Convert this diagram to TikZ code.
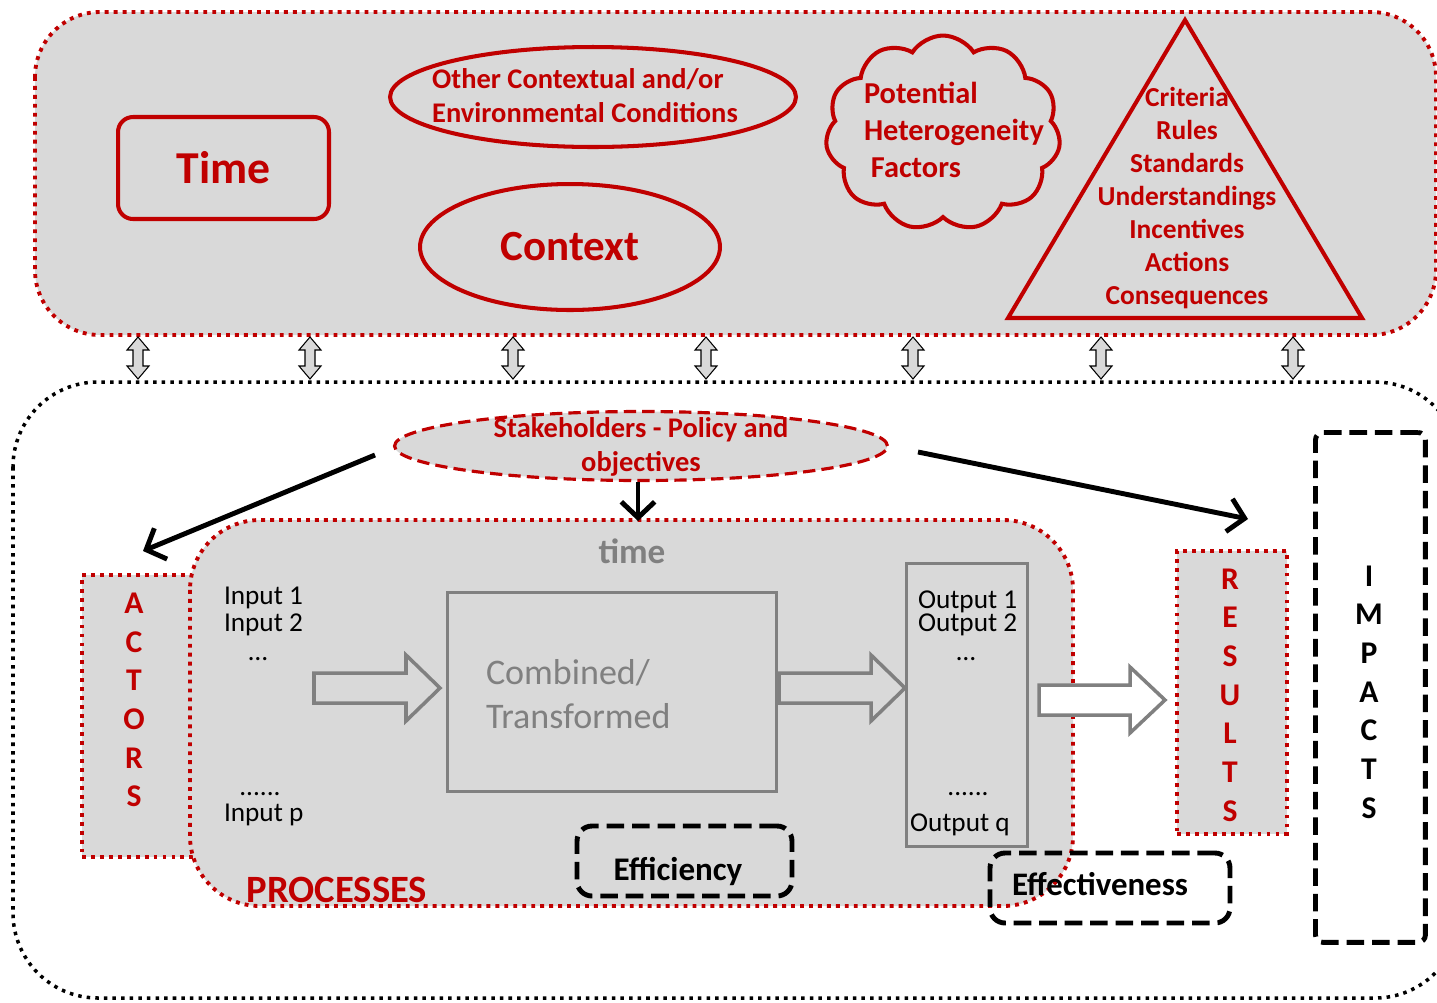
\documentclass[tikz,border=0pt]{standalone}
\usepackage{fontspec}
\setmainfont{Carlito}
\usetikzlibrary{shapes.geometric,shapes.symbols,arrows.meta}
\definecolor{dred}{HTML}{C00000}
\definecolor{lgray}{HTML}{D9D9D9}
\definecolor{mgray}{HTML}{808080}
\tikzset{
  reddot/.style={draw=dred, line width=2.2pt, dash pattern=on 2.2pt off 2.9pt},
  blkdot/.style={draw=black, line width=2pt, dash pattern=on 2pt off 2.9pt},
  redline/.style={draw=dred, line width=2.3pt},
  blkdash/.style={draw=black, line width=2.8pt, dash pattern=on 10pt off 4.5pt},
  reddash/.style={draw=dred, line width=1.8pt, dash pattern=on 7pt off 3.5pt},
  redtxt/.style={text=dred, font=\bfseries},
  blockarrow/.style={draw=mgray, line width=2pt, line join=miter},
  dblarrow/.style={draw=black, line width=0.6pt, fill=lgray},
  conn/.style={line width=2.8pt, -{Straight Barb[length=9pt,width=19pt]}},
  plain/.style={inner sep=0pt, outer sep=0pt}
}
\newcommand{\blockarr}[5]{% x1 x2 cy headstart fill
  \draw[blockarrow, fill=#5] (#1,#3-15) -- (#4,#3-15) -- (#4,#3-33) -- (#2,#3) -- (#4,#3+33) -- (#4,#3+15) -- (#1,#3+15) -- cycle;}
\newcommand{\dblarr}[1]{%
  \draw[dblarrow] (#1-5,350) -- (#1-11,350) -- (#1,337) -- (#1+11,350) -- (#1+5,350) -- (#1+5,366) -- (#1+11,366) -- (#1,379) -- (#1-11,366) -- (#1-5,366) -- cycle;}
\begin{document}
\begin{tikzpicture}[x=0.02cm,y=-0.02cm]
\useasboundingbox (0,0) rectangle (1437,1002);
% top panel
\draw[reddot, fill=lgray, rounded corners=1.3cm] (35,12) rectangle (1436,335);
% bottom panel
\draw[blkdot, rounded corners=1.7cm] (13,382) rectangle (1460,998);
% double arrows
\foreach \xx in {138,310,513,706,913,1101,1293}{\dblarr{\xx}}
% Time
\node[redline, rounded corners=0.3cm, minimum width=4.22cm, minimum height=2.04cm, redtxt, font=\bfseries\fontsize{26}{30}\selectfont] (time) at (223.5,168) {Time};
% ellipses
\node[ellipse, redline, minimum width=8.12cm, minimum height=2cm, inner sep=0pt] (other) at (593,97) {};
\node[plain, redtxt, align=left, font=\bfseries\fontsize{16.2}{19.3}\selectfont] (othertxt) at (585,96) {Other Contextual and/or\\Environmental Conditions};
\node[ellipse, redline, minimum width=6cm, minimum height=2.52cm, redtxt, font=\bfseries\fontsize{24.5}{30}\selectfont] (context) at (570,247) {Context};
% cloud
\node[cloud, cloud puffs=11, cloud puff arc=115, aspect=1.15, redline, minimum width=4.7cm, minimum height=3.9cm] (cloud) at (943,133) {};
\node[plain, redtxt, align=left, anchor=west, font=\bfseries\fontsize{17.3}{21}\selectfont] (cloudtxt) at (864,130) {Potential\\Heterogeneity\\\ Factors};
% triangle
\draw[redline, line join=miter] (1185,20) -- (1362,318) -- (1008,318) -- cycle;
\node[plain, redtxt, align=center, font=\bfseries\fontsize{15.6}{18.7}\selectfont] (tri) at (1187,198) {Criteria\\Rules\\Standards\\Understandings\\Incentives\\Actions\\Consequences};
% stakeholders
\node[ellipse, reddash, fill=lgray, minimum width=9.86cm, minimum height=1.38cm, inner sep=0pt] (stake) at (641,446) {};
\node[plain, redtxt, align=center, font=\bfseries\fontsize{16.2}{19.3}\selectfont] (staketxt) at (641,447) {Stakeholders - Policy and\\objectives};
% actors
\node[reddot, fill=lgray, minimum width=2.24cm, minimum height=5.64cm, anchor=north west] (actors) at (80,573) {};
\node[plain, redtxt, align=center, font=\bfseries\fontsize{18}{22}\selectfont] (actorstxt) at (134,700) {A\\C\\T\\O\\R\\S};
% processes
\draw[reddot, fill=lgray, rounded corners=1.4cm] (190,520) rectangle (1073,906);
\node[plain, text=mgray, font=\bfseries\fontsize{20}{24}\selectfont] (ptime) at (632,551) {time};
\node[plain, redtxt, font=\bfseries\fontsize{22}{26}\selectfont] (proc) at (337,890) {PROCESSES};
% inputs
\node[plain, anchor=west, font=\fontsize{15.5}{18}\selectfont] (in1) at (224,598) {Input 1};
\node[plain, anchor=west, font=\fontsize{15.5}{18}\selectfont] (in2) at (224,625) {Input 2};
\node[plain, font=\fontsize{15.5}{18}\selectfont] (in3) at (258,659) {\ldots};
\node[plain, font=\fontsize{15.5}{18}\selectfont] (in4) at (260,794) {......};
\node[plain, anchor=west, font=\fontsize{15.5}{18}\selectfont] (inp) at (224,815) {Input p};
% combined
\node[draw=mgray, line width=1.7pt, minimum width=6.58cm, minimum height=3.98cm, anchor=north west] (comb) at (446,591) {};
\node[plain, text=mgray, align=left, anchor=west, font=\fontsize{20.5}{25}\selectfont] (combtxt) at (486,694) {Combined/\\Transformed};
% outputs
\node[draw=mgray, line width=1.7pt, minimum width=2.42cm, minimum height=5.66cm, anchor=north west] (outbox) at (905,562) {};
\node[plain, anchor=west, font=\fontsize{15.5}{18}\selectfont] (out1) at (918,602) {Output 1};
\node[plain, anchor=west, font=\fontsize{15.5}{18}\selectfont] (out2) at (918,625) {Output 2};
\node[plain, font=\fontsize{15.5}{18}\selectfont] (out3) at (966,659) {\ldots};
\node[plain, font=\fontsize{15.5}{18}\selectfont] (out4) at (968,794) {......};
\node[plain, anchor=west, font=\fontsize{15.5}{18}\selectfont] (outq) at (910,825) {Output q};
% block arrows
\blockarr{314}{440}{688}{406}{lgray}
\blockarr{779}{905}{688}{871}{lgray}
\blockarr{1039}{1165}{700}{1130}{white}
% results
\node[reddot, fill=lgray, minimum width=2.2cm, minimum height=5.66cm, anchor=north west] (results) at (1175,549) {};
\node[plain, redtxt, align=center, font=\bfseries\fontsize{18}{22}\selectfont] (restxt) at (1230,695) {R\\E\\S\\U\\L\\T\\S};
% impacts
\node[blkdash, rounded corners=0.15cm, minimum width=2.2cm, minimum height=10.2cm, anchor=north west] (impacts) at (1313,430) {};
\node[plain, align=center, font=\bfseries\fontsize{18}{22}\selectfont] (imptxt) at (1369,692) {I\\M\\P\\A\\C\\T\\S};
% efficiency / effectiveness
\node[blkdash, rounded corners=0.3cm, minimum width=4.3cm, minimum height=1.4cm] (eff) at (684.5,861) {};
\node[plain, font=\bfseries\fontsize{18.8}{22}\selectfont] (efftxt) at (678,871) {Efficiency};
\node[blkdash, rounded corners=0.3cm, minimum width=4.8cm, minimum height=1.4cm] (effv) at (1110,888) {};
\node[plain, font=\bfseries\fontsize{18.7}{22}\selectfont] (effvtxt) at (1100,884) {Effectiveness};
% connectors
\coordinate (s1) at (375,455);
\coordinate (a1) at (143,551);
\coordinate (s2) at (638,482);
\coordinate (p2) at (638,521);
\coordinate (s3) at (918,452);
\coordinate (r3) at (1248,519);
\draw[conn] (s1) -- (a1);
\draw[conn] (s2) -- (p2);
\draw[conn] (s3) -- (r3);
\end{tikzpicture}
\end{document}
